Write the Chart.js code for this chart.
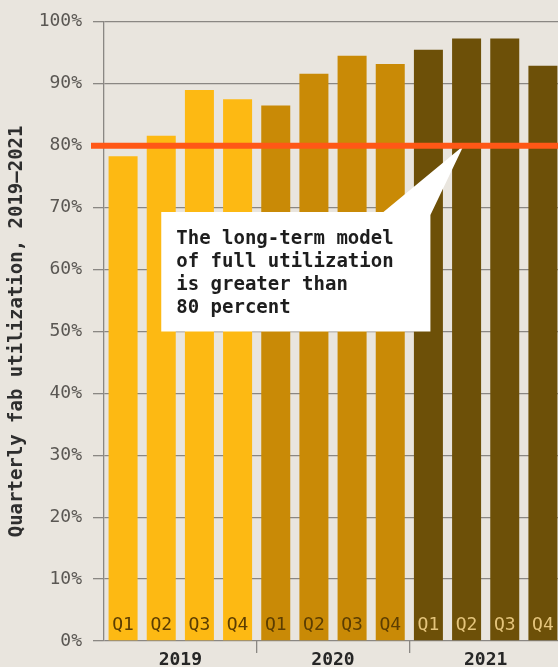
<!DOCTYPE html>
<html>
<head>
<meta charset="utf-8">
<script src="https://cdn.jsdelivr.net/npm/chart.js@4/dist/chart.umd.min.js"></script>
<style>
  html, body { margin: 0; padding: 0; background: #e9e5de; overflow: hidden; }
  #wrap { width: 562px; height: 667px; }
</style>
</head>
<body>
<div id="wrap"><canvas id="fab" width="562" height="667"></canvas></div>
<script>
// Quarterly fab utilization, percent
const quarters = ['Q1', 'Q2', 'Q3', 'Q4', 'Q1', 'Q2', 'Q3', 'Q4', 'Q1', 'Q2', 'Q3', 'Q4'];
const years = ['2019', '2020', '2021'];
const utilization = [78.3, 81.6, 89.0, 87.5, 86.5, 91.6, 94.5, 93.2, 95.5, 97.3, 97.3, 92.9];
const yearColors = ['#fdb913', '#c98a06', '#6d5008'];
const quarterTextColors = ['#5b3d02', '#5b3d02', '#e4c47c'];
const targetLevel = 80;
const noteLines = ['The long-term model', 'of full utilization', 'is greater than', '80 percent'];

const MONO = '"DejaVu Sans Mono", "Liberation Mono", monospace';
const GRID = '#8a8783';
const yearOf = i => Math.floor(i / 4);

// Quarter names inside the bars, the callout and the 80% target line
const overlay = {
  id: 'overlay',
  afterDatasetsDraw(chart) {
    const { ctx, chartArea, scales: { x, y } } = chart;
    ctx.save();

    ctx.font = '18px ' + MONO;
    ctx.textAlign = 'center';
    ctx.textBaseline = 'alphabetic';
    quarters.forEach((q, i) => {
      ctx.fillStyle = quarterTextColors[yearOf(i)];
      ctx.fillText(q, x.getPixelForValue(i), y.getPixelForValue(0) - 11);
    });

    // callout box with a pointer up to the target line
    const left = x.getPixelForValue(1);
    const right = x.getPixelForValue(8) + 2;
    const top = y.getPixelForValue(69.3);
    const bottom = y.getPixelForValue(50);
    const tipX = (x.getPixelForValue(8) + x.getPixelForValue(9)) / 2 + 16;
    const tipY = y.getPixelForValue(targetLevel);
    ctx.fillStyle = '#ffffff';
    ctx.beginPath();
    ctx.moveTo(left, top);
    ctx.lineTo(right - 47, top);
    ctx.lineTo(tipX, tipY);
    ctx.lineTo(right, top + 3);
    ctx.lineTo(right, bottom);
    ctx.lineTo(left, bottom);
    ctx.closePath();
    ctx.fill();

    ctx.fillStyle = '#1e1e1e';
    ctx.font = 'bold 19px ' + MONO;
    ctx.textAlign = 'left';
    noteLines.forEach((line, k) => {
      ctx.fillText(line, left + 15, top + 32 + k * 23);
    });

    // target utilization line
    ctx.strokeStyle = '#ff5716';
    ctx.lineWidth = 6;
    ctx.beginPath();
    ctx.moveTo(chartArea.left - 13, tipY);
    ctx.lineTo(chart.width, tipY);
    ctx.stroke();

    ctx.restore();
  }
};

new Chart(document.getElementById('fab'), {
  type: 'bar',
  data: {
    labels: quarters,
    datasets: [{
      data: utilization,
      backgroundColor: utilization.map((_, i) => yearColors[yearOf(i)]),
      borderWidth: 0,
      categoryPercentage: 1,
      barPercentage: 0.76
    }]
  },
  options: {
    responsive: false,
    devicePixelRatio: 1,
    animation: false,
    layout: { padding: { top: 9, left: 0, right: 0, bottom: 0 } },
    plugins: { legend: { display: false }, tooltip: { enabled: false } },
    scales: {
      x: {
        display: false
      },
      xYear: {
        type: 'category',
        position: 'bottom',
        labels: years,
        offset: true,
        grid: {
          offset: true,
          drawOnChartArea: false,
          tickLength: 12,
          color: ctx => (ctx.index === 0 || ctx.index === years.length) ? 'rgba(0,0,0,0)' : GRID,
          lineWidth: 1.3
        },
        border: { display: false },
        ticks: {
          color: '#262626',
          padding: -3,
          maxRotation: 0,
          font: { family: MONO, size: 18, weight: 'bold' }
        },
        afterFit(scale) { scale.height = 26; }
      },
      y: {
        min: 0,
        max: 100,
        ticks: {
          stepSize: 10,
          padding: 11,
          color: '#5a5753',
          font: { family: MONO, size: 18 },
          callback: v => v + '%'
        },
        grid: { color: GRID, lineWidth: 1.3, tickLength: 11 },
        border: { display: true, color: GRID, width: 1.3 },
        title: {
          display: true,
          text: 'Quarterly fab utilization, 2019–2021',
          color: '#2e2e2e',
          padding: { top: 6, bottom: 0 },
          font: { family: MONO, size: 19, weight: 'bold' }
        },
        afterFit(scale) { scale.width = 104; }
      }
    }
  },
  plugins: [overlay]
});
</script>
</body>
</html>
